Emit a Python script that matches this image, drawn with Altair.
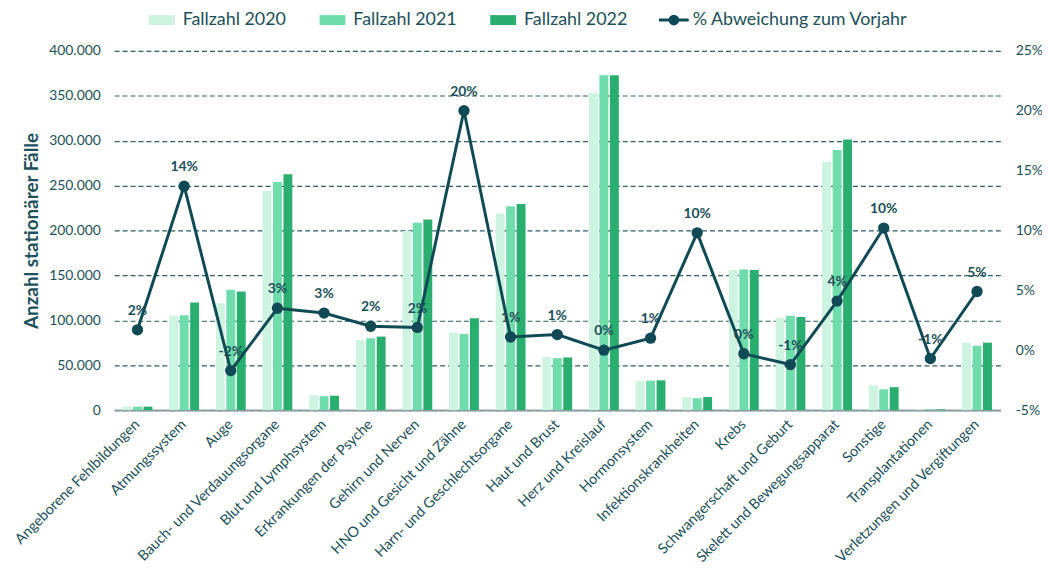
import altair as alt
import pandas as pd

categories = ["Angeborene Fehlbildungen", "Atmungssystem", "Auge", "Bauch- und Verdauungsorgane",
              "Blut und Lymphsystem", "Erkrankungen der Psyche", "Gehirn und Nerven",
              "HNO und Gesicht und Zähne", "Harn- und Geschlechtsorgane", "Haut und Brust",
              "Herz und Kreislauf", "Hormonsystem", "Infektionskrankheiten", "Krebs",
              "Schwangerschaft und Geburt", "Skelett und Bewegungsapparat", "Sonstige",
              "Transplantationen", "Verletzungen und Vergiftungen"]
series = ["Fallzahl 2020", "Fallzahl 2021", "Fallzahl 2022"]
f2020 = [4000, 105000, 119000, 244000, 16500, 78000, 199500, 86500, 219000, 58800, 353000,
         32700, 14000, 156000, 102800, 276600, 27500, 800, 75000]
f2021 = [3700, 105500, 134000, 254000, 15500, 80000, 208500, 84800, 227000, 57800, 372800,
         32800, 13200, 156500, 105000, 289500, 23100, 800, 71600]
f2022 = [3800, 119800, 132000, 262500, 16000, 81800, 212300, 102300, 229500, 58600, 372700,
         33100, 14500, 156000, 103500, 301200, 25500, 795, 75100]
pct = [1.7, 13.7, -1.7, 3.5, 3.1, 2.0, 1.9, 20.0, 1.1, 1.3, 0.0, 1.0, 9.8, -0.3, -1.2, 4.1,
       10.2, -0.7, 4.9]
pct_labels = ["2%", "14%", "-2%", "3%", "3%", "2%", "2%", "20%", "1%", "1%", "0%", "1%",
              "10%", "0%", "-1%", "4%", "10%", "-1%", "5%"]
line_name = "% Abweichung zum Vorjahr"

bar_colors = ["#cdf3e1", "#6edcab", "#2aae6f"]
line_color = "#0f4a55"
text_color = "#1b4f5a"
font = "Lato"

rows = []
for i, c in enumerate(categories):
    for s, vals in zip(series, [f2020, f2021, f2022]):
        rows.append({"cat": c, "series": s, "value": vals[i]})
bar_df = pd.DataFrame(rows)
line_df = pd.DataFrame({"cat": categories, "pct": pct, "lab": pct_labels,
                        "name": [line_name] * len(categories)})

x_enc = alt.X("cat:N", sort=categories,
              scale=alt.Scale(paddingInner=0.36, paddingOuter=0.18),
              axis=alt.Axis(title=None, labelAngle=-45, labelAlign="right",
                            labelBaseline="middle", labelPadding=12, ticks=False,
                            domain=True, domainColor="#8c9fa3", domainWidth=2,
                            labelFont=font, labelFontSize=14.5, labelColor=text_color,
                            labelLimit=400, grid=False))

bars = alt.Chart(bar_df).mark_bar().encode(
    x=x_enc,
    xOffset=alt.XOffset("series:N", sort=series, scale=alt.Scale(paddingInner=0.15)),
    y=alt.Y("value:Q", scale=alt.Scale(domain=[0, 400000]),
            axis=alt.Axis(title="Anzahl stationärer Fälle", values=list(range(0, 400001, 50000)),
                          labelExpr="replace(format(datum.value, ','), ',', '.')",
                          grid=True, gridDash=[5, 3], gridColor="#2e5b66", gridWidth=1.2,
                          domain=False, ticks=False, labelPadding=14,
                          labelFont=font, labelFontSize=14, labelColor=text_color,
                          titleFont=font, titleFontSize=19, titleFontWeight="bold",
                          titleColor=text_color, titlePadding=7)),
    color=alt.Color("series:N", sort=series,
                    scale=alt.Scale(domain=series, range=bar_colors),
                    legend=alt.Legend(title=None, orient="none", legendX=47, legendY=-40,
                                      padding=0, direction="horizontal",
                                      symbolType="M-4.2,-1H1V1H-4.2Z", symbolSize=100,
                                      symbolStrokeWidth=0, labelFont=font, labelFontSize=18,
                                      labelColor=text_color, columnPadding=33,
                                      labelOffset=4, labelLimit=300)),
)

y_right = alt.Y("pct:Q", scale=alt.Scale(domain=[-5, 25]),
                axis=alt.Axis(title=None, orient="right", values=[-5, 0, 5, 10, 15, 20, 25],
                              labelExpr="datum.value + '%'", grid=False, domain=False,
                              ticks=False, labelPadding=15, labelFont=font, labelFontSize=14,
                              labelColor=text_color))

line = alt.Chart(line_df).mark_line(color=line_color, strokeWidth=3).encode(x=x_enc, y=y_right)
points = alt.Chart(line_df).mark_point(filled=True, size=130, opacity=1).encode(
    x=x_enc, y=y_right,
    color=alt.Color("name:N", scale=alt.Scale(domain=[line_name], range=[line_color]),
                    legend=alt.Legend(title=None, orient="none", legendX=565, legendY=-40,
                                      padding=0,
                                      symbolType="M-5,0H1M-1.22,0A0.78,0.78,0,1,1,-2.78,0A0.78,0.78,0,1,1,-1.22,0",
                                      symbolSize=100, symbolStrokeWidth=3,
                                      symbolStrokeColor=line_color, symbolFillColor=line_color,
                                      labelFont=font, labelFontSize=18, labelColor=text_color,
                                      labelOffset=0, labelLimit=400)),
)
labels = alt.Chart(line_df).mark_text(dy=-19, font=font, fontSize=14, fontWeight="bold",
                                      color=text_color, baseline="middle").encode(
    x=x_enc, y=y_right, text="lab:N")

right = alt.layer(line, points, labels)

chart = alt.layer(bars, right).resolve_scale(y="independent", color="independent").properties(
    width=893, height=362,
    autosize=alt.AutoSizeParams(type="none"),
    padding={"left": 107, "top": 41, "right": 42, "bottom": 157},
).configure_view(stroke=None)

chart.save("out.html", embed_options={"renderer": "svg", "actions": False})
